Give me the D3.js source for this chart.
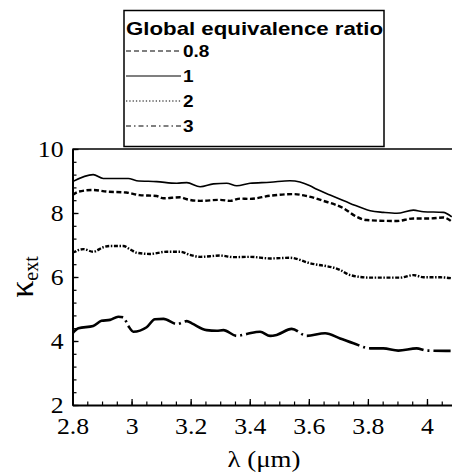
<!DOCTYPE html>
<html>
<head>
<meta charset="utf-8">
<script src="https://cdn.jsdelivr.net/npm/d3@7"></script>
<style>
  html, body { margin: 0; padding: 0; background: #fff; }
  svg { display: block; }
</style>
</head>
<body>
<svg id="chart" width="452" height="474"></svg>
<script>
// Extinction coefficient spectra for four global equivalence ratios
const seriesNames = ["0.8", "1", "2", "3"];

const wl_08 = [2.80, 2.822, 2.87, 2.915, 2.982, 3.027, 3.085, 3.108, 3.164, 3.187, 3.232, 3.300, 3.334, 3.367, 3.401, 3.469, 3.548, 3.593, 3.649, 3.717, 3.762, 3.796, 3.898, 3.954, 4.011, 4.055, 4.084];
const k_08  = [8.56, 8.67, 8.72, 8.67, 8.64, 8.56, 8.53, 8.46, 8.49, 8.43, 8.38, 8.41, 8.38, 8.45, 8.44, 8.54, 8.59, 8.53, 8.38, 8.15, 7.88, 7.78, 7.75, 7.83, 7.83, 7.86, 7.73];

const wl_1 = [2.80, 2.87, 2.904, 2.989, 3.017, 3.085, 3.153, 3.187, 3.232, 3.277, 3.322, 3.356, 3.401, 3.469, 3.536, 3.570, 3.604, 3.627, 3.672, 3.740, 3.808, 3.852, 3.898, 3.954, 3.988, 4.055, 4.084];
const k_1  = [8.98, 9.20, 9.08, 9.08, 9.01, 8.98, 8.93, 8.95, 8.82, 8.91, 8.93, 8.85, 8.93, 8.96, 9.01, 8.97, 8.85, 8.74, 8.56, 8.30, 8.07, 8.02, 7.99, 8.09, 8.04, 8.02, 7.88];

const wl_2 = [2.80, 2.837, 2.87, 2.904, 2.927, 2.972, 2.994, 3.017, 3.062, 3.119, 3.164, 3.198, 3.232, 3.300, 3.345, 3.401, 3.469, 3.536, 3.604, 3.706, 3.740, 3.808, 3.909, 3.954, 3.988, 4.045, 4.084];
const k_2  = [6.76, 6.87, 6.79, 6.93, 6.97, 6.97, 6.87, 6.76, 6.72, 6.79, 6.79, 6.69, 6.63, 6.67, 6.62, 6.63, 6.58, 6.60, 6.43, 6.22, 6.06, 5.98, 5.98, 6.06, 5.99, 5.99, 5.96];

const wl_3 = [2.80, 2.82, 2.87, 2.898, 2.927, 2.955, 2.972, 2.989, 3.006, 3.051, 3.079, 3.108, 3.153, 3.187, 3.204, 3.254, 3.288, 3.311, 3.356, 3.390, 3.435, 3.469, 3.491, 3.542, 3.593, 3.655, 3.706, 3.751, 3.808, 3.852, 3.903, 3.965, 3.999, 4.08];
const k_3  = [4.24, 4.40, 4.47, 4.63, 4.66, 4.76, 4.74, 4.47, 4.29, 4.43, 4.68, 4.69, 4.53, 4.62, 4.55, 4.34, 4.32, 4.34, 4.16, 4.22, 4.29, 4.16, 4.19, 4.38, 4.16, 4.24, 4.08, 3.93, 3.77, 3.77, 3.70, 3.77, 3.70, 3.69];

const xMajorTicks = [2.8, 3.0, 3.2, 3.4, 3.6, 3.8, 4.0];
const xTickLabels = ["2.8", "3", "3.2", "3.4", "3.6", "3.8", "4"];
const yMajorTicks = [2, 4, 6, 8, 10];
const yTickLabels = ["2", "4", "6", "8", "10"];

const legendTitle = "Global equivalence ratio";

const series = [
  { name: seriesNames[0], x: wl_08, y: k_08, dash: "5,2.5", width: 2.4, legendDash: "5,3" },
  { name: seriesNames[1], x: wl_1,  y: k_1,  dash: null,    width: 1.6, legendDash: null },
  { name: seriesNames[2], x: wl_2,  y: k_2,  dash: "4,1.6,1.5,1.6", width: 2.4, legendDash: "1.3,2" },
  { name: seriesNames[3], x: wl_3,  y: k_3,  dash: "55,4,2,4", width: 2.6, legendDash: "5,3,1.5,3" }
];

const svg = d3.select("#chart");
const plotLeft = 72.5, plotTop = 149, plotBottom = 405;
const pxPerUnitX = 295.4;

const x = d3.scaleLinear().domain([2.8, 4.1]).range([plotLeft, plotLeft + 1.3 * pxPerUnitX]);
const y = d3.scaleLinear().domain([2, 10]).range([plotBottom, plotTop]);

const SERIF = '"Liberation Serif"';
const SANS = '"Liberation Sans"';
const stretch = "scale(1.12,1)";

// clip region for the data lines
svg.append("clipPath").attr("id", "plotClip")
  .append("rect").attr("x", plotLeft).attr("y", plotTop).attr("width", 452 - plotLeft).attr("height", plotBottom - plotTop);

// minor ticks
const xMinor = d3.range(2.8, 4.101, 0.05).map(v => +v.toFixed(2));
const yMinor = d3.range(2, 10.001, 0.4).map(v => +v.toFixed(1));

svg.append("g")
  .attr("transform", `translate(0,${plotBottom})`)
  .call(d3.axisBottom(x).tickValues(xMinor).tickSizeInner(-3.5).tickSizeOuter(0).tickFormat(""))
  .call(g => g.select(".domain").remove())
  .call(g => g.selectAll("line").attr("stroke", "#000").attr("stroke-width", 1.2));

svg.append("g")
  .attr("transform", `translate(${plotLeft},0)`)
  .call(d3.axisLeft(y).tickValues(yMinor).tickSizeInner(-4).tickSizeOuter(0).tickFormat(""))
  .call(g => g.select(".domain").remove())
  .call(g => g.selectAll("line").attr("stroke", "#000").attr("stroke-width", 1.2));

// major ticks and labels
const xAxis = svg.append("g")
  .attr("transform", `translate(0,${plotBottom})`)
  .call(d3.axisBottom(x).tickValues(xMajorTicks).tickSizeInner(-6).tickSizeOuter(0).tickPadding(13)
    .tickFormat((d, i) => xTickLabels[i]));
xAxis.select(".domain").attr("stroke", "#000").attr("stroke-width", 2);
xAxis.selectAll("line").attr("stroke", "#000").attr("stroke-width", 1.3);
xAxis.selectAll("text")
  .style("font-family", SERIF).style("font-size", "23px").attr("fill", "#000")
  .attr("transform", stretch);

const yAxis = svg.append("g")
  .attr("transform", `translate(${plotLeft},0)`)
  .call(d3.axisLeft(y).tickValues(yMajorTicks).tickSizeInner(-6).tickSizeOuter(0).tickPadding(8)
    .tickFormat((d, i) => yTickLabels[i]));
yAxis.select(".domain").attr("stroke", "#000").attr("stroke-width", 2);
yAxis.selectAll("line").attr("stroke", "#000").attr("stroke-width", 1.3);
yAxis.selectAll("text")
  .style("font-family", SERIF).style("font-size", "23px").attr("fill", "#000")
  .attr("transform", stretch);

// top frame line
svg.append("line")
  .attr("x1", plotLeft).attr("x2", x(4.1)).attr("y1", y(10)).attr("y2", y(10))
  .attr("stroke", "#000").attr("stroke-width", 1.6);

// data lines
const line = d3.line().x(d => x(d[0])).y(d => y(d[1])).curve(d3.curveMonotoneX);
const plot = svg.append("g").attr("clip-path", "url(#plotClip)");
series.forEach(s => {
  plot.append("path")
    .datum(s.x.map((v, i) => [v, s.y[i]]))
    .attr("fill", "none")
    .attr("stroke", "#000")
    .attr("stroke-width", s.width)
    .attr("stroke-dasharray", s.dash)
    .attr("stroke-linejoin", "round")
    .attr("d", line);
});

// axis titles
svg.append("text")
  .attr("transform", `translate(264,467) ${stretch}`)
  .attr("text-anchor", "middle")
  .style("font-family", SERIF).style("font-size", "24px").attr("fill", "#000")
  .text("λ (μm)");

const yt = svg.append("text")
  .attr("transform", `translate(33,${y(6)}) rotate(-90)`)
  .attr("text-anchor", "middle")
  .style("font-family", SERIF).attr("fill", "#000");
yt.append("tspan").style("font-size", "34px").text("κ");
yt.append("tspan").style("font-size", "20px").attr("dy", 5).text("ext");

// legend
const lg = svg.append("g");
lg.append("rect")
  .attr("x", 124).attr("y", 10.5).attr("width", 260).attr("height", 136)
  .attr("fill", "#fff").attr("stroke", "#000").attr("stroke-width", 1.5);
lg.append("text")
  .attr("x", 126).attr("y", 35)
  .style("font-family", SANS).style("font-weight", "bold").style("font-size", "18.5px").attr("fill", "#000")
  .attr("textLength", 257).attr("lengthAdjust", "spacingAndGlyphs")
  .text(legendTitle);
series.forEach((s, i) => {
  const by = 57 + i * 25;
  lg.append("line")
    .attr("x1", 126).attr("x2", 181).attr("y1", by - 6).attr("y2", by - 6)
    .attr("stroke", "#000").attr("stroke-width", 1.2)
    .attr("stroke-dasharray", s.legendDash);
  lg.append("text")
    .attr("transform", `translate(183,${by}) ${stretch}`)
    .style("font-family", SANS).style("font-weight", "bold").style("font-size", "17px").attr("fill", "#000")
    .text(s.name);
});
</script>
</body>
</html>
